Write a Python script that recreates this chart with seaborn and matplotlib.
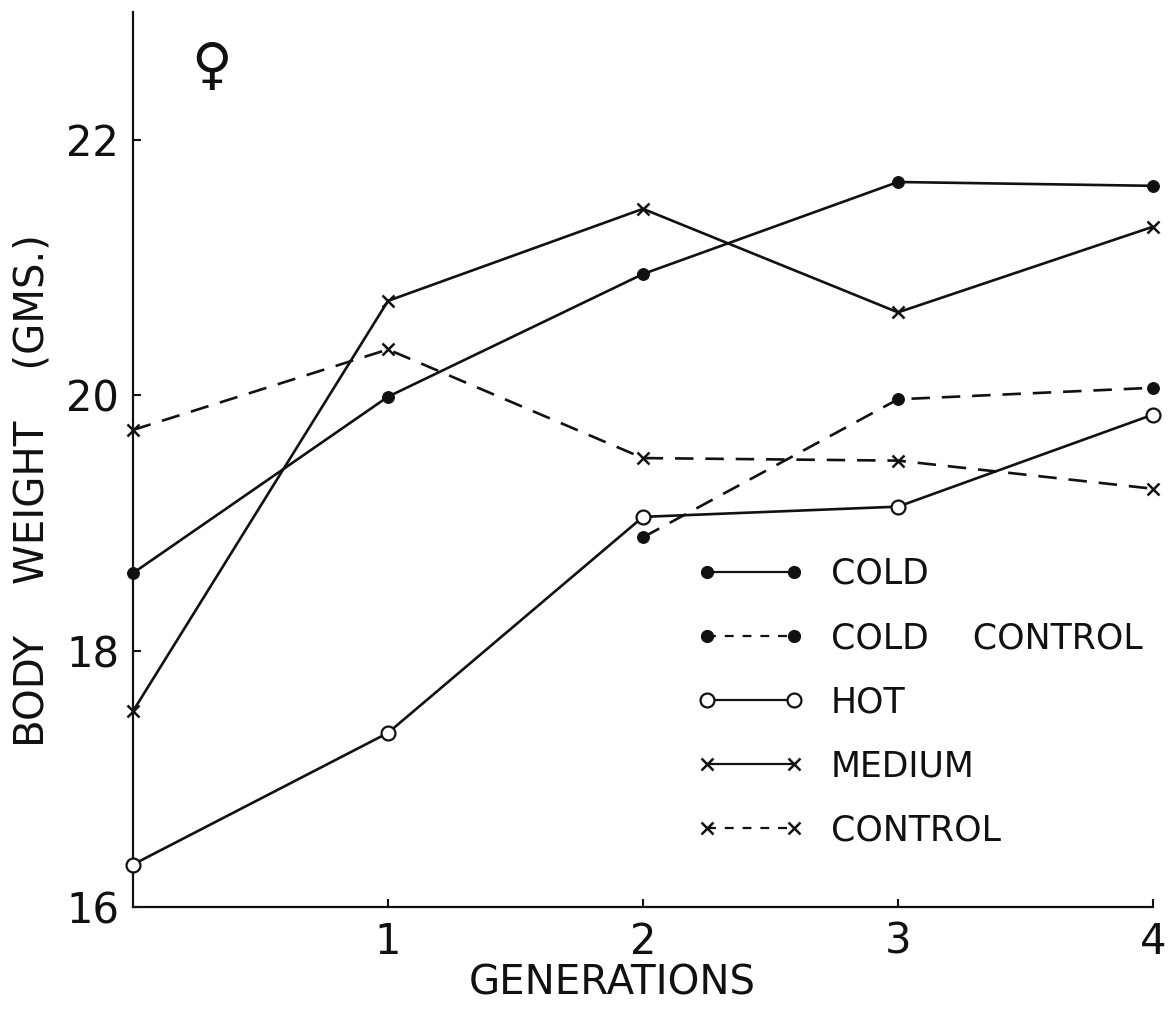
import matplotlib
matplotlib.use("Agg")
import matplotlib.pyplot as plt
from matplotlib.lines import Line2D
import seaborn as sns
import pandas as pd

# ---- data ----
generations = [0, 1, 2, 3, 4]
cold = [18.61, 19.99, 20.95, 21.67, 21.64]
cold_control_gen = [2, 3, 4]
cold_control = [18.89, 19.97, 20.06]
hot = [16.33, 17.36, 19.05, 19.13, 19.85]
medium = [17.53, 20.74, 21.46, 20.65, 21.32]
control = [19.73, 20.36, 19.51, 19.49, 19.27]

labels = ["COLD", "COLD    CONTROL", "HOT", "MEDIUM", "CONTROL"]
x_ticks = [1, 2, 3, 4]
y_ticks = [16, 18, 20, 22]

sns.set_style("ticks")
plt.rcParams["font.family"] = ["DejaVu Sans"]

fig = plt.figure(figsize=(11.72, 10.14), dpi=100)
ax = fig.add_axes([133 / 1172, 1 - 906.7 / 1014, 1020 / 1172, 894.7 / 1014])

ink = "#111111"
lw = 1.9
dash = (7, 4.5)

series = [
    (generations, cold, dict(marker="o", markersize=8.5, markerfacecolor=ink, markeredgecolor=ink)),
    (cold_control_gen, cold_control, dict(marker="o", markersize=8.5, markerfacecolor=ink, markeredgecolor=ink, dashes=dash)),
    (generations, hot, dict(marker="o", markersize=10, markerfacecolor="white", markeredgecolor=ink, markeredgewidth=1.6)),
    (generations, medium, dict(marker="x", markersize=9, markeredgecolor=ink, markeredgewidth=1.8)),
    (generations, control, dict(marker="x", markersize=9, markeredgecolor=ink, markeredgewidth=1.8, dashes=dash)),
]

handles = []
for (xs, ys, kw), lab in zip(series, labels):
    df = pd.DataFrame({"gen": xs, "w": ys})
    kw2 = dict(kw)
    d = kw2.pop("dashes", None)
    sns.lineplot(data=df, x="gen", y="w", ax=ax, color=ink, linewidth=lw,
                 clip_on=False, zorder=3, **kw2)
    line = ax.lines[-1]
    if d is not None:
        line.set_dashes(d)
    h = Line2D([0], [0], color=ink, linewidth=1.6, **kw2)
    if d is not None:
        h.set_dashes((4, 4))
    handles.append(h)

ax.set_xlim(0, 4)
ax.set_ylim(16, 23)
ax.set_xticks(x_ticks)
ax.set_yticks(y_ticks)
ax.tick_params(direction="in", length=6, width=1.5, labelsize=30, colors=ink, pad=10)
for s in ["top", "right"]:
    ax.spines[s].set_visible(False)
for s in ["left", "bottom"]:
    ax.spines[s].set_linewidth(1.6)
    ax.spines[s].set_color(ink)

ax.set_xlabel("GENERATIONS", fontsize=29, color=ink)
ax.xaxis.set_label_coords(0.47, -0.063)

ax.set_ylabel("BODY    WEIGHT    (GMS.)", fontsize=29, color=ink)
ax.yaxis.label.set_va("center")
ax.yaxis.set_label_coords(-0.099, 0.465)

fig.text(212 / 1172, 1 - 68 / 1014, "\u2640", fontsize=40, ha="center", va="center",
         color=ink)

leg = ax.legend(handles, labels, loc="upper left", bbox_to_anchor=(697 / 1172, 1 - 557 / 1014),
                bbox_transform=fig.transFigure, frameon=False, numpoints=2, fontsize=25,
                handlelength=3.1, handletextpad=0.75, labelspacing=0.865, borderpad=0,
                borderaxespad=0)
for t in leg.get_texts():
    t.set_color(ink)

fig.savefig("out.png", dpi=100, facecolor="white")
